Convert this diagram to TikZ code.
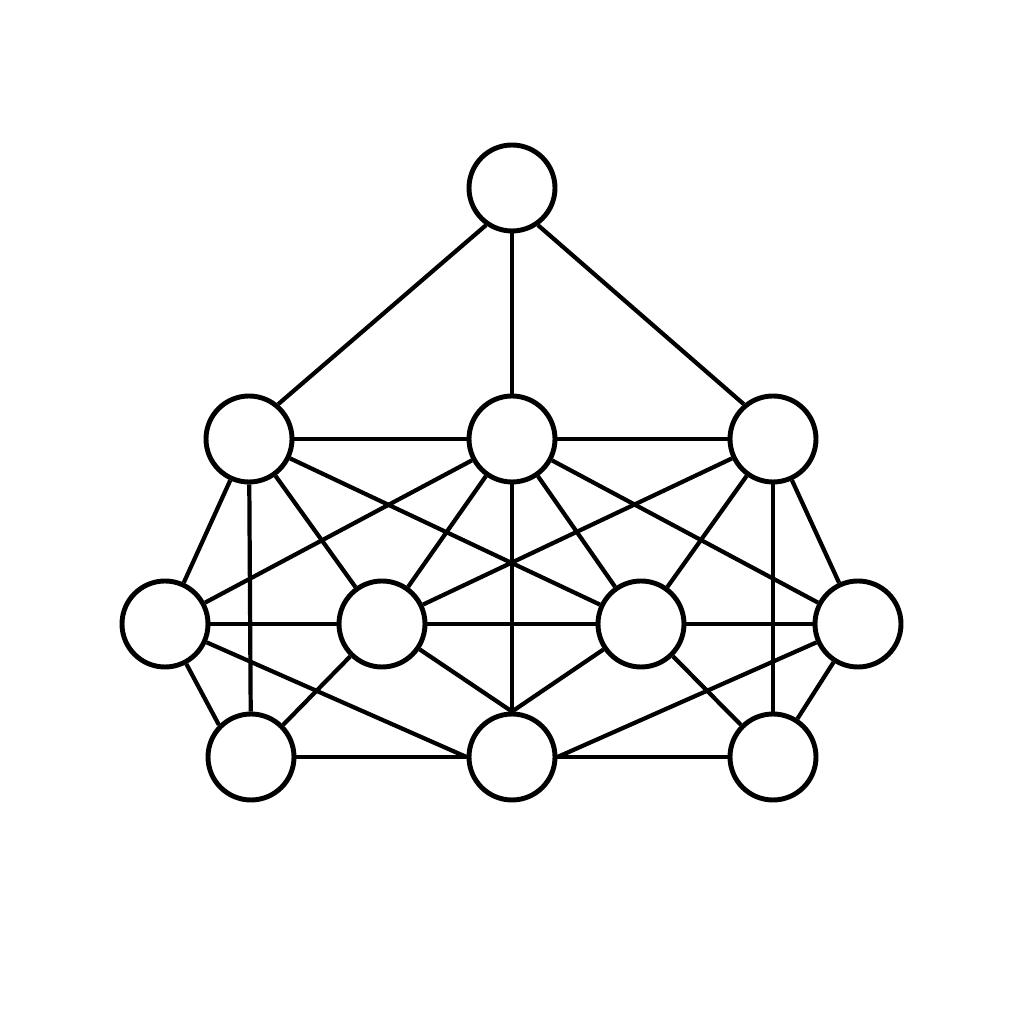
\documentclass[tikz,border=0pt]{standalone}
\usepackage{tikz}
\usetikzlibrary{shapes.geometric}
\tikzstyle{vertex} = [circle, minimum size=0.86cm, inner sep=0pt, draw=black, line width=1.4pt, fill=white]
\tikzstyle{edge} = [line width=1.2pt]

\begin{document}
\begin{tikzpicture}
\useasboundingbox (0,0) rectangle (10.24,10.24);
% Nodes
\node (top) [vertex] at (5.12,8.36) {};
\node (a1) [vertex] at (2.49,5.85) {};
\node (a2) [vertex] at (5.12,5.85) {};
\node (a3) [vertex] at (7.73,5.85) {};
\node (b1) [vertex] at (1.65,4.00) {};
\node (b2) [vertex] at (3.82,4.00) {};
\node (b3) [vertex] at (6.41,4.00) {};
\node (b4) [vertex] at (8.58,4.00) {};
\node (c1) [vertex] at (2.51,2.67) {};
\node (c2) [vertex] at (5.12,2.67) {};
\node (c3) [vertex] at (7.73,2.67) {};

% Edges
\draw [edge] (top.235) -- (a1.50);
\draw [edge] (top) -- (a2);
\draw [edge] (top.305) -- (a3.130);
\draw [edge] (a1) -- (a2);
\draw [edge] (a2) -- (a3);
\draw [edge] (a1) -- (b1);
\draw [edge] (a1) -- (c1);
\draw [edge] (a1) -- (b2);
\draw [edge] (a1) -- (b3);
\draw [edge] (a2) -- (b1);
\draw [edge] (a2) -- (b2);
\draw [edge] (a2) -- (c2.north);
\draw [edge] (a2) -- (b3);
\draw [edge] (a2) -- (b4);
\draw [edge] (a3) -- (b2);
\draw [edge] (a3) -- (b3);
\draw [edge] (a3) -- (c3);
\draw [edge] (a3) -- (b4);
\draw [edge] (b1) -- (b2);
\draw [edge] (b2) -- (b3);
\draw [edge] (b3) -- (b4);
\draw [edge] (b1) -- (c1.north west);
\draw [edge] (b1) -- (c2.west);
\draw [edge] (b2) -- (c1.north east);
\draw [edge] (b2) -- (c2.north);
\draw [edge] (b3) -- (c2.north);
\draw [edge] (b3) -- (c3.north west);
\draw [edge] (b4) -- (c3);
\draw [edge] (b4) -- (c2.east);
\draw [edge] (c1) -- (c2);
\draw [edge] (c2) -- (c3);
\end{tikzpicture}
\end{document}
